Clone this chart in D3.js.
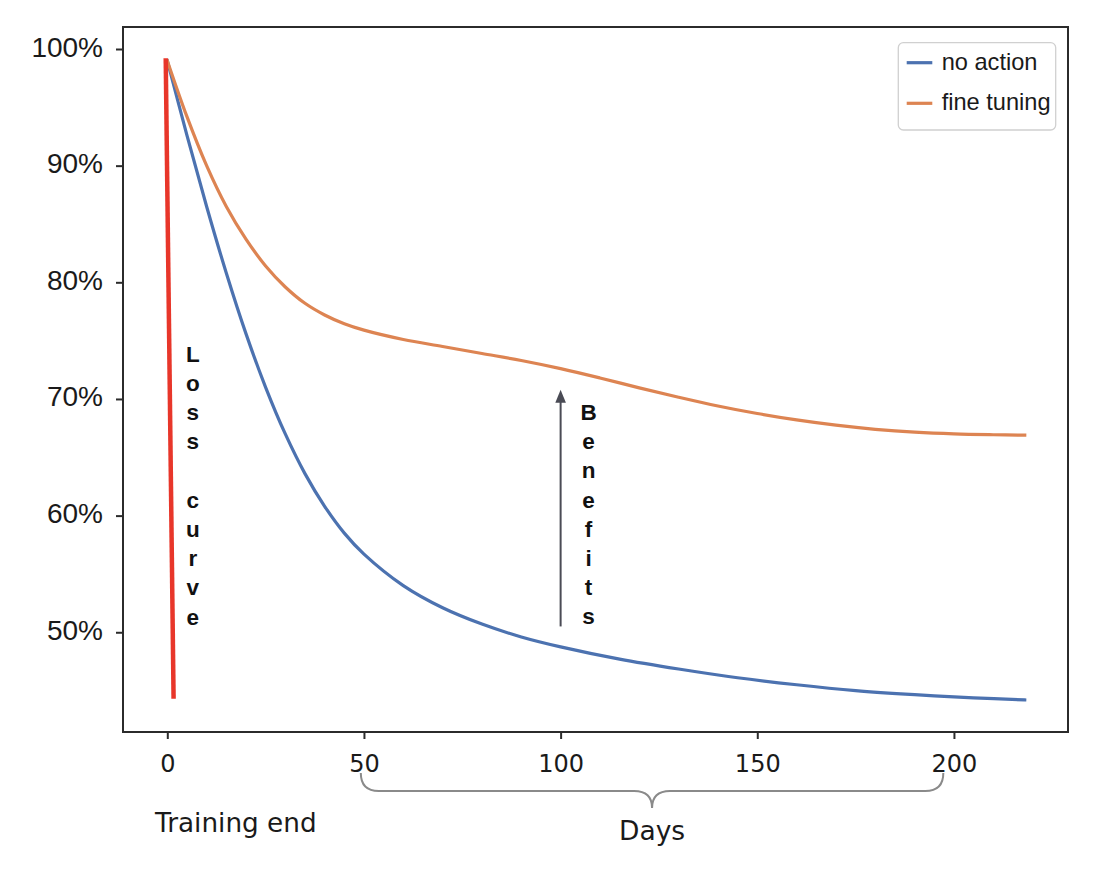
<!DOCTYPE html>
<html>
<head>
<meta charset="utf-8">
<script src="https://cdn.jsdelivr.net/npm/d3@7"></script>
<style>
  html, body { margin: 0; padding: 0; background: #fff; }
  svg { display: block; }
</style>
</head>
<body>
<svg id="chart" width="1108" height="870"></svg>
<script>
// ---- data ----
const noActionDays   = [0, 5, 10, 15, 20, 25, 30, 35, 40, 45, 50, 60, 70, 80, 90, 100, 115, 130, 145, 160, 175, 190, 205, 218];
const noActionValues = [99.0, 92.6, 86.5, 80.8, 75.6, 71.0, 67.0, 63.6, 60.8, 58.5, 56.7, 54.0, 52.1, 50.7, 49.6, 48.75, 47.7, 46.85, 46.1, 45.5, 45.0, 44.65, 44.38, 44.2];

const fineTuningDays   = [0, 5, 10, 15, 20, 25, 30, 35, 40, 45, 50, 60, 70, 80, 90, 100, 110, 120, 130, 140, 150, 160, 170, 180, 190, 200, 210, 218];
const fineTuningValues = [99.0, 94.2, 90.0, 86.5, 83.7, 81.4, 79.6, 78.2, 77.2, 76.45, 75.9, 75.1, 74.5, 73.9, 73.3, 72.6, 71.8, 70.95, 70.15, 69.4, 68.75, 68.2, 67.75, 67.4, 67.15, 67.0, 66.93, 66.9];

const lossCurveDays   = [-0.4, 1.6];
const lossCurveValues = [99.2, 44.3];

const xTicks = [0, 50, 100, 150, 200];
const yTicks = [50, 60, 70, 80, 90, 100];
const seriesNames = ["no action", "fine tuning"];
const lossLabel = "Loss curve";
const benefitsLabel = "Benefits";
const benefitsArrow = { day: 100, from: 50.5, to: 70.8 };
const braceRange = [49.2, 197.3];
const xCaption = "Days";
const startCaption = "Training end";

// ---- layout ----
const svg = d3.select("#chart");
const L = 123, R = 1068, T = 27, B = 732;
const x = d3.scaleLinear().domain([-11.26, 229.0]).range([L, R]);
const y = d3.scaleLinear().domain([41.45, 101.886]).range([B, T]);

const blue = "#4c72b0", orange = "#dd8452", red = "#e8362a";

const lineGen = d3.line().x(d => x(d[0])).y(d => y(d[1])).curve(d3.curveCatmullRom.alpha(0.5));

const gPlot = svg.append("g");

const blueData = noActionDays.map((d, i) => [d, noActionValues[i]]);
const orangeData = fineTuningDays.map((d, i) => [d, fineTuningValues[i]]);

gPlot.append("path").datum(blueData).attr("d", lineGen)
  .attr("fill", "none").attr("stroke", blue).attr("stroke-width", 3.2).attr("stroke-linecap", "square");
gPlot.append("path").datum(orangeData).attr("d", lineGen)
  .attr("fill", "none").attr("stroke", orange).attr("stroke-width", 3.2).attr("stroke-linecap", "square");

// loss curve (red)
const redData = lossCurveDays.map((d, i) => [d, lossCurveValues[i]]);
gPlot.append("path").datum(redData)
  .attr("d", d3.line().x(d => x(d[0])).y(d => y(d[1])))
  .attr("fill", "none").attr("stroke", red).attr("stroke-width", 4.5);

// vertical letter labels
function verticalLetters(text, cx, firstBaseline, step) {
  const g = svg.append("g");
  text.split("").forEach((ch, i) => {
    if (ch === " ") return;
    g.append("text")
      .attr("x", cx).attr("y", firstBaseline + i * step)
      .attr("text-anchor", "middle")
      .attr("font-family", "'Liberation Sans', Arial, sans-serif")
      .attr("font-weight", "bold").attr("font-size", 22.5)
      .attr("fill", "#111")
      .text(ch);
  });
}
verticalLetters(lossLabel, x(6.5), 361.7, 29.2);
verticalLetters(benefitsLabel, x(benefitsArrow.day + 7.1), 420, 29.2);

// benefits arrow
const ax = x(benefitsArrow.day);
const aTop = y(benefitsArrow.to), aBot = y(benefitsArrow.from);
svg.append("line").attr("x1", ax).attr("x2", ax).attr("y1", aBot).attr("y2", aTop + 10)
  .attr("stroke", "#4a4b55").attr("stroke-width", 2);
svg.append("path")
  .attr("d", `M${ax},${aTop} L${ax - 5.3},${aTop + 13} L${ax + 5.3},${aTop + 13} Z`)
  .attr("fill", "#4a4b55");

// frame
svg.append("rect").attr("x", L).attr("y", T).attr("width", R - L).attr("height", B - T)
  .attr("fill", "none").attr("stroke", "#2b2b2b").attr("stroke-width", 2);

// x axis ticks
const xAxisG = svg.append("g").attr("transform", `translate(0,${B})`)
  .call(d3.axisBottom(x).tickValues(xTicks).tickSize(7).tickPadding(0).tickFormat(d3.format("d")));
xAxisG.select(".domain").remove();
xAxisG.selectAll(".tick line").attr("stroke", "#2b2b2b").attr("stroke-width", 2);
xAxisG.selectAll(".tick text")
  .attr("font-family", "'DejaVu Sans', sans-serif").attr("font-size", 24)
  .attr("fill", "#1a1a1a").attr("dy", null).attr("y", 40.3);

// y axis ticks
const yAxisG = svg.append("g").attr("transform", `translate(${L},0)`)
  .call(d3.axisLeft(y).tickValues(yTicks).tickSize(7).tickPadding(0).tickFormat(d => d + "%"));
yAxisG.select(".domain").remove();
yAxisG.selectAll(".tick line").attr("stroke", "#2b2b2b").attr("stroke-width", 2);
yAxisG.selectAll(".tick text")
  .attr("font-family", "'Liberation Sans', Arial, sans-serif").attr("font-size", 28)
  .attr("fill", "#1a1a1a").attr("dy", null).attr("x", -20).attr("y", 7);

// brace under x axis
const bx0 = x(braceRange[0]), bx1 = x(braceRange[1]);
const bmid = (bx0 + bx1) / 2;
const bTop = 773, bMidY = 791, bTip = 808, r = 18;
svg.append("path")
  .attr("d", `M${bx0},${bTop} Q${bx0},${bMidY} ${bx0 + r},${bMidY} L${bmid - r},${bMidY} Q${bmid},${bMidY} ${bmid},${bTip} ` +
             `M${bmid},${bTip} Q${bmid},${bMidY} ${bmid + r},${bMidY} L${bx1 - r},${bMidY} Q${bx1},${bMidY} ${bx1},${bTop}`)
  .attr("fill", "none").attr("stroke", "#8a8a8a").attr("stroke-width", 2);

svg.append("text").attr("x", bmid).attr("y", 840).attr("text-anchor", "middle")
  .attr("font-family", "'DejaVu Sans', sans-serif").attr("font-size", 26.5).attr("fill", "#1a1a1a")
  .text(xCaption);
svg.append("text").attr("x", 155).attr("y", 832.3).attr("text-anchor", "start")
  .attr("font-family", "'DejaVu Sans', sans-serif").attr("font-size", 26.3).attr("fill", "#1a1a1a")
  .text(startCaption);

// legend
const lg = svg.append("g");
lg.append("rect").attr("x", 898.3).attr("y", 42.7).attr("width", 157.4).attr("height", 87.3)
  .attr("rx", 5).attr("fill", "#fff").attr("stroke", "#d0d0d0").attr("stroke-width", 1.3);
const legendColors = [blue, orange];
seriesNames.forEach((name, i) => {
  const ly = 62.7 + i * 40.6;
  lg.append("line").attr("x1", 906.7).attr("x2", 932.3).attr("y1", ly).attr("y2", ly)
    .attr("stroke", legendColors[i]).attr("stroke-width", 3.2);
  lg.append("text").attr("x", 941.7).attr("y", ly + 7)
    .attr("font-family", "'Liberation Sans', Arial, sans-serif").attr("font-size", 23.6)
    .attr("fill", "#1a1a1a").text(name);
});
</script>
</body>
</html>
